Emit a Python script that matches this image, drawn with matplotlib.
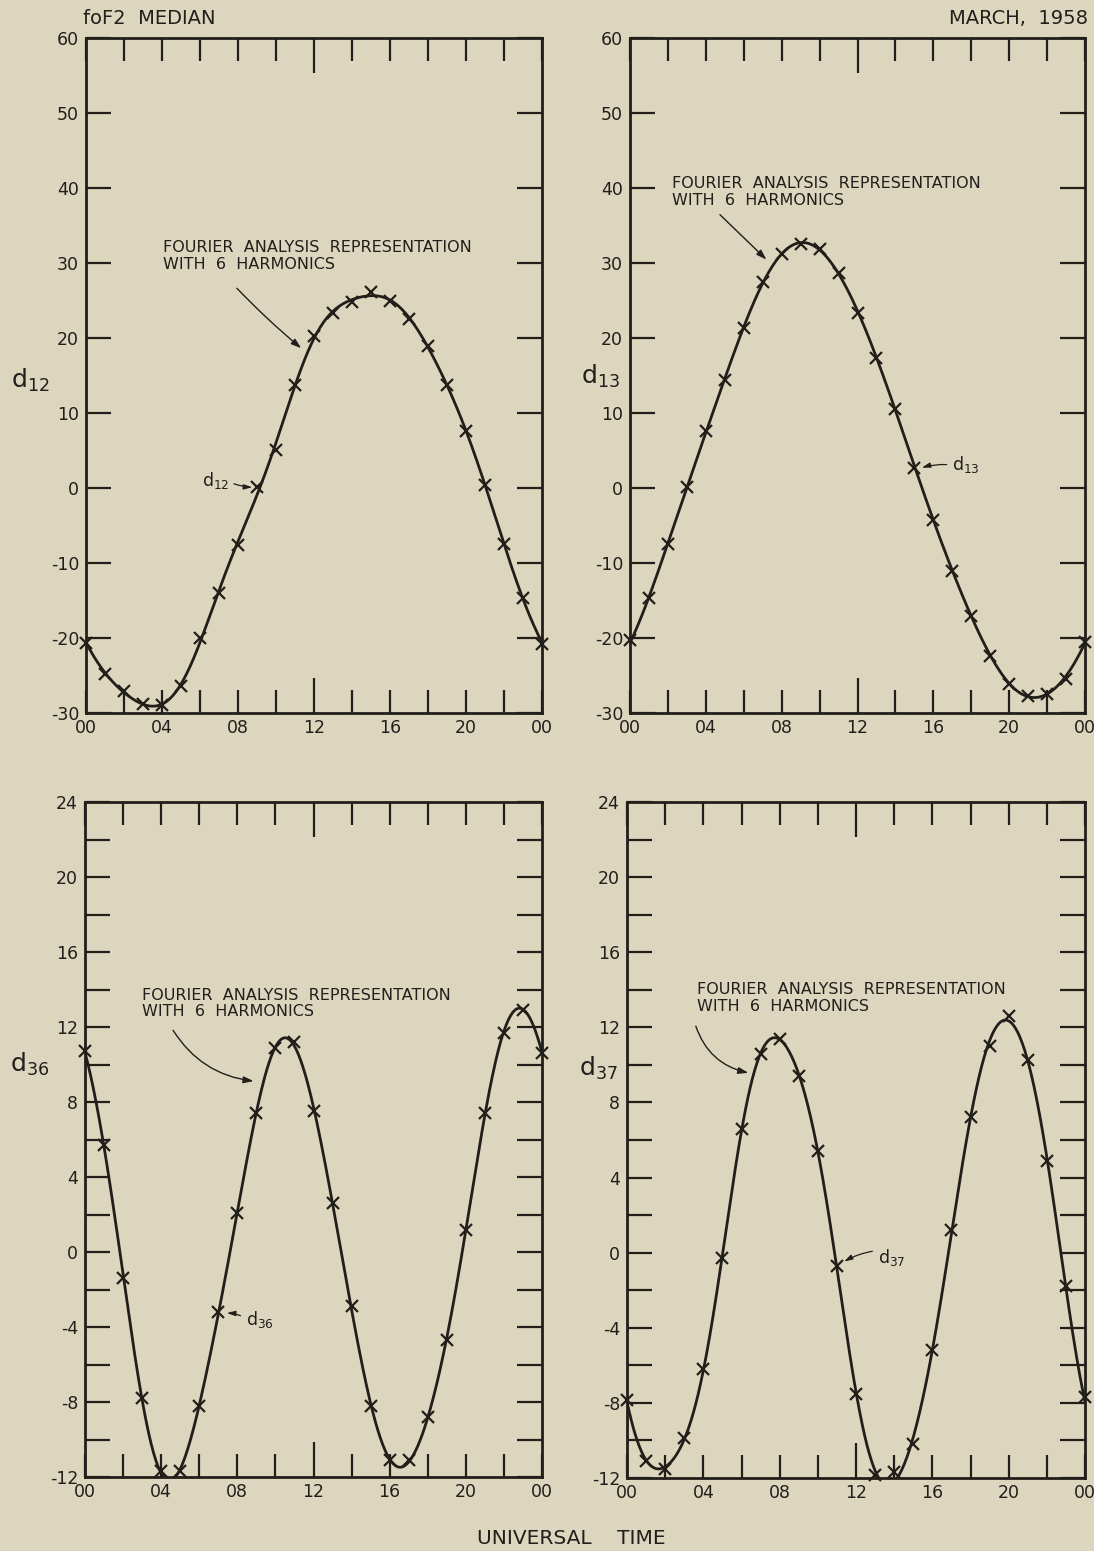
"""foF2 median, March 1958: hourly d-coefficients with a 6-harmonic Fourier fit."""
import matplotlib

matplotlib.use("Agg")
import matplotlib.pyplot as plt
from matplotlib.ticker import FixedLocator, FuncFormatter
import numpy as np

# hourly values (UT 00..24)
HOURS = list(range(25))
D12 = [-20.6, -24.8, -27.1, -28.8, -28.9, -26.4, -20.0, -14.0, -7.6, 0.2, 5.1, 13.8, 20.3,
       23.4, 24.8, 26.1, 24.9, 22.6, 18.9, 13.7, 7.6, 0.4, -7.5, -14.7, -20.8]
D13 = [-20.3, -14.6, -7.5, 0.1, 7.6, 14.4, 21.4, 27.5, 31.2, 32.5, 31.9, 28.7, 23.4,
       17.4, 10.6, 2.7, -4.2, -11.0, -17.0, -22.4, -26.1, -27.7, -27.4, -25.4, -20.5]
D36 = [10.7, 5.7, -1.4, -7.8, -11.7, -11.7, -8.2, -3.2, 2.1, 7.4, 10.9, 11.2, 7.5,
       2.6, -2.9, -8.2, -11.1, -11.1, -8.8, -4.7, 1.2, 7.4, 11.7, 12.9, 10.6]
D37 = [-7.85, -11.1, -11.5, -9.85, -6.2, -0.3, 6.6, 10.6, 11.4, 9.4, 5.4, -0.7, -7.5,
       -11.85, -11.7, -10.2, -5.2, 1.2, 7.2, 11.0, 12.6, 10.25, 4.9, -1.8, -7.7]

X_LABELS = ["00", "04", "08", "12", "16", "20", "00"]
N_HARM = 6

BG = "#dcd6bf"
INK = "#221e1a"
TICK_FONT = ["Liberation Sans Narrow", "DejaVu Sans"]
TEXT_FONT = ["DejaVu Sans"]

W, H = 1094, 1551
FIG_W, FIG_H = W / 100, H / 100


def fourier_fit(vals, nharm, t):
    v = np.asarray(vals[:24], dtype=float)
    c = np.fft.rfft(v) / len(v)
    y = np.full_like(t, c[0].real)
    for k in range(1, nharm + 1):
        th = 2 * np.pi * k * t / 24.0
        y += 2 * (c[k].real * np.cos(th) - c[k].imag * np.sin(th))
    return y


def px_box(left, top, right, bottom):
    return [left / W, 1 - bottom / H, (right - left) / W, (bottom - top) / H]


# (values, box, ylim, y label step, y tick step, name, fit-label text pos, arrow start,
#  arrow end, rad, small label pos, small arrow start, small arrow end)
PANELS = [
    (D12, px_box(86, 38, 542, 713), (-30, 60), 10, 10, "12",
     (4.05, 33.0), (7.84, 26.9), (11.44, 18.4), 0.03,
     (7.55, 1.0), (7.65, 0.7), (8.9, 0.1)),
    (D13, px_box(630, 38, 1085, 713), (-30, 60), 10, 10, "13",
     (2.2, 41.6), (4.64, 36.7), (7.3, 30.2), 0.0,
     (17.0, 3.1), (16.85, 3.1), (15.25, 2.6)),
    (D36, px_box(85, 802, 542, 1477), (-12, 24), 4, 2, "36",
     (3.0, 14.1), (4.55, 11.95), (9.0, 9.1), 0.25,
     (8.45, -3.6), (8.3, -3.45), (7.3, -3.25)),
    (D37, px_box(627, 802, 1085, 1478), (-12, 24), 4, 2, "37",
     (3.65, 14.4), (3.56, 12.2), (6.5, 9.55), 0.3,
     (13.15, -0.25), (13.0, 0.1), (11.25, -0.55)),
]

YLAB_POS = [(30, 380), (600, 376), (30, 1064), (598, 1068)]


def style_axes(ax, ylim, ylab_step, ytick_step):
    ax.set_facecolor("none")
    ax.set_xlim(0, 24)
    ax.set_ylim(*ylim)
    for sp in ax.spines.values():
        sp.set_color(INK)
        sp.set_linewidth(2.0)

    xt = list(range(0, 25, 2))
    ax.xaxis.set_major_locator(FixedLocator(xt))
    ax.xaxis.set_major_formatter(FuncFormatter(
        lambda v, p: X_LABELS[int(round(v)) // 4] if int(round(v)) % 4 == 0 else ""))
    yt = list(range(ylim[0], ylim[1] + 1, ytick_step))
    ax.yaxis.set_major_locator(FixedLocator(yt))
    ax.yaxis.set_major_formatter(FuncFormatter(
        lambda v, p: f"{int(round(v))}" if int(round(v)) % ylab_step == 0 else ""))

    ax.tick_params(axis="x", direction="in", top=True, bottom=True, length=16.5,
                   width=1.6, color=INK, labelsize=12.5, labelcolor=INK, pad=4)
    ax.tick_params(axis="y", direction="in", left=True, right=True, length=18,
                   width=1.6, color=INK, labelsize=12.5, labelcolor=INK, pad=5)
    for lab in ax.get_xticklabels() + ax.get_yticklabels():
        lab.set_family(TICK_FONT)
    # the noon tick is drawn longer
    for tk, v in zip(ax.xaxis.get_major_ticks(), xt):
        if v == 12:
            tk.tick1line.set_markersize(25)
            tk.tick2line.set_markersize(25)


def main():
    plt.rcParams["axes.unicode_minus"] = False
    plt.rcParams["mathtext.fontset"] = "dejavusans"
    fig = plt.figure(figsize=(FIG_W, FIG_H), dpi=100, facecolor=BG)

    t = np.linspace(0, 24, 600)
    for (vals, box, ylim, ystep, tstep, sub, tpos, a0, a1, rad,
         spos, s0, s1), (lx, ly) in zip(PANELS, YLAB_POS):
        ax = fig.add_axes(box)
        style_axes(ax, ylim, ystep, tstep)

        ax.plot(t, fourier_fit(vals, N_HARM, t), color=INK, lw=2.0, zorder=3)
        ax.plot(HOURS, vals, ls="none", marker="x", ms=8.5, mew=1.6, color=INK,
                zorder=4, clip_on=False)

        ax.text(tpos[0], tpos[1], "FOURIER  ANALYSIS  REPRESENTATION\nWITH  6  HARMONICS",
                ha="left", va="top", fontsize=11.5, color=INK, family=TEXT_FONT,
                linespacing=1.15)
        ax.annotate("", xy=a1, xytext=a0,
                    arrowprops=dict(arrowstyle="-|>,head_length=0.6,head_width=0.2",
                                    color=INK, lw=1.0,
                                    connectionstyle=f"arc3,rad={rad}"))

        ha = "right" if sub == "12" else "left"
        ax.text(spos[0], spos[1], f"d$_{{{sub}}}$", ha=ha, va="center", fontsize=12.5,
                color=INK)
        ax.annotate("", xy=s1, xytext=s0,
                    arrowprops=dict(arrowstyle="-|>,head_length=0.5,head_width=0.15",
                                    color=INK, lw=0.9,
                                    connectionstyle="arc3,rad=0.1"))

        fig.text(lx / W, 1 - ly / H, f"d$_{{{sub}}}$", ha="center", va="center",
                 fontsize=18, color=INK)

    fig.text(83 / W, 1 - 18 / H, "foF2  MEDIAN", ha="left", va="center",
             fontsize=14, color=INK, family=TEXT_FONT)
    fig.text(1088 / W, 1 - 18 / H, "MARCH,  1958", ha="right", va="center",
             fontsize=14, color=INK, family=TEXT_FONT)
    fig.text(571 / W, 1 - 1538 / H, "UNIVERSAL    TIME", ha="center", va="center",
             fontsize=14.5, color=INK, family=TEXT_FONT)

    fig.savefig("out.png", dpi=100, facecolor=BG)


if __name__ == "__main__":
    main()
